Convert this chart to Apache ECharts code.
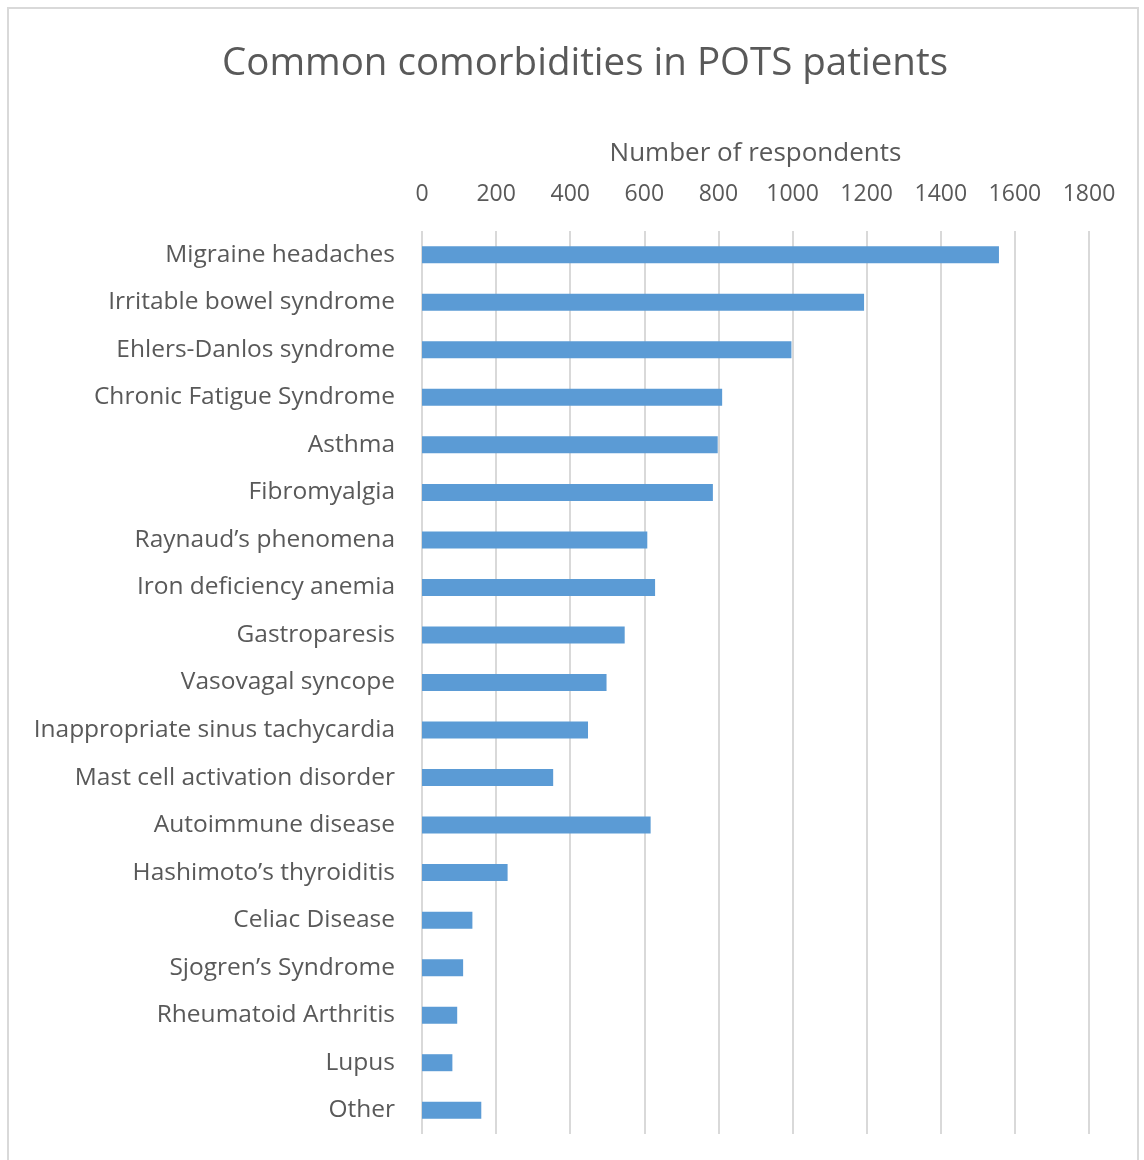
<!DOCTYPE html>
<html>
<head>
<meta charset="utf-8">
<script src="https://cdn.jsdelivr.net/npm/echarts@6/dist/echarts.min.js"></script>
<style>
html,body{margin:0;padding:0;background:#fff;}
#frame{position:absolute;left:7px;top:7px;width:1132px;height:1160px;border:2px solid #d9d9d9;box-sizing:border-box;}
#chart{position:absolute;left:0;top:0;width:1144px;height:1160px;}
</style>
</head>
<body>
<div id="frame"></div>
<div id="chart"></div>
<script>
const categories = [
  "Migraine headaches",
  "Irritable bowel syndrome",
  "Ehlers-Danlos syndrome",
  "Chronic Fatigue Syndrome",
  "Asthma",
  "Fibromyalgia",
  "Raynaud’s phenomena",
  "Iron deficiency anemia",
  "Gastroparesis",
  "Vasovagal syncope",
  "Inappropriate sinus tachycardia",
  "Mast cell activation disorder",
  "Autoimmune disease",
  "Hashimoto’s thyroiditis",
  "Celiac Disease",
  "Sjogren’s Syndrome",
  "Rheumatoid Arthritis",
  "Lupus",
  "Other"
];
const respondents = [1557, 1193, 997, 810, 798, 785, 608, 629, 547, 498, 448, 354, 617, 231, 136, 111, 95, 82, 160];
const xTicks = { min: 0, max: 1800, interval: 200 };

const chart = echarts.init(document.getElementById('chart'), null, { renderer: 'canvas' });
const font = '"Open Sans", "Noto Sans", sans-serif';
chart.setOption({
  backgroundColor: 'transparent',
  animation: false,
  title: {
    text: 'Common comorbidities in POTS patients',
    left: 580, top: 40, textAlign: 'center',
    textStyle: { fontFamily: font, fontSize: 38.5, fontWeight: 'normal', color: '#595959' }
  },
  grid: { left: 422, right: 55, top: 231, bottom: 26, containLabel: false },
  xAxis: {
    type: 'value', position: 'top',
    min: xTicks.min, max: xTicks.max, interval: xTicks.interval,
    name: 'Number of respondents', nameLocation: 'middle', nameGap: 64,
    nameTextStyle: { fontFamily: font, fontSize: 26, color: '#595959' },
    axisLine: { show: false }, axisTick: { show: false },
    axisLabel: { fontFamily: font, fontSize: 23, color: '#595959', margin: 25, formatter: v => String(v) },
    splitLine: { show: true, lineStyle: { color: '#d9d9d9', width: 2 } }
  },
  yAxis: {
    type: 'category', inverse: true, data: categories,
    axisLine: { show: false }, axisTick: { show: false },
    axisLabel: { fontFamily: font, fontSize: 24.5, color: '#595959', margin: 27 }
  },
  series: [{
    type: 'bar', data: respondents, barWidth: 17,
    itemStyle: { color: '#5b9bd5' }
  }]
});
</script>
</body>
</html>
